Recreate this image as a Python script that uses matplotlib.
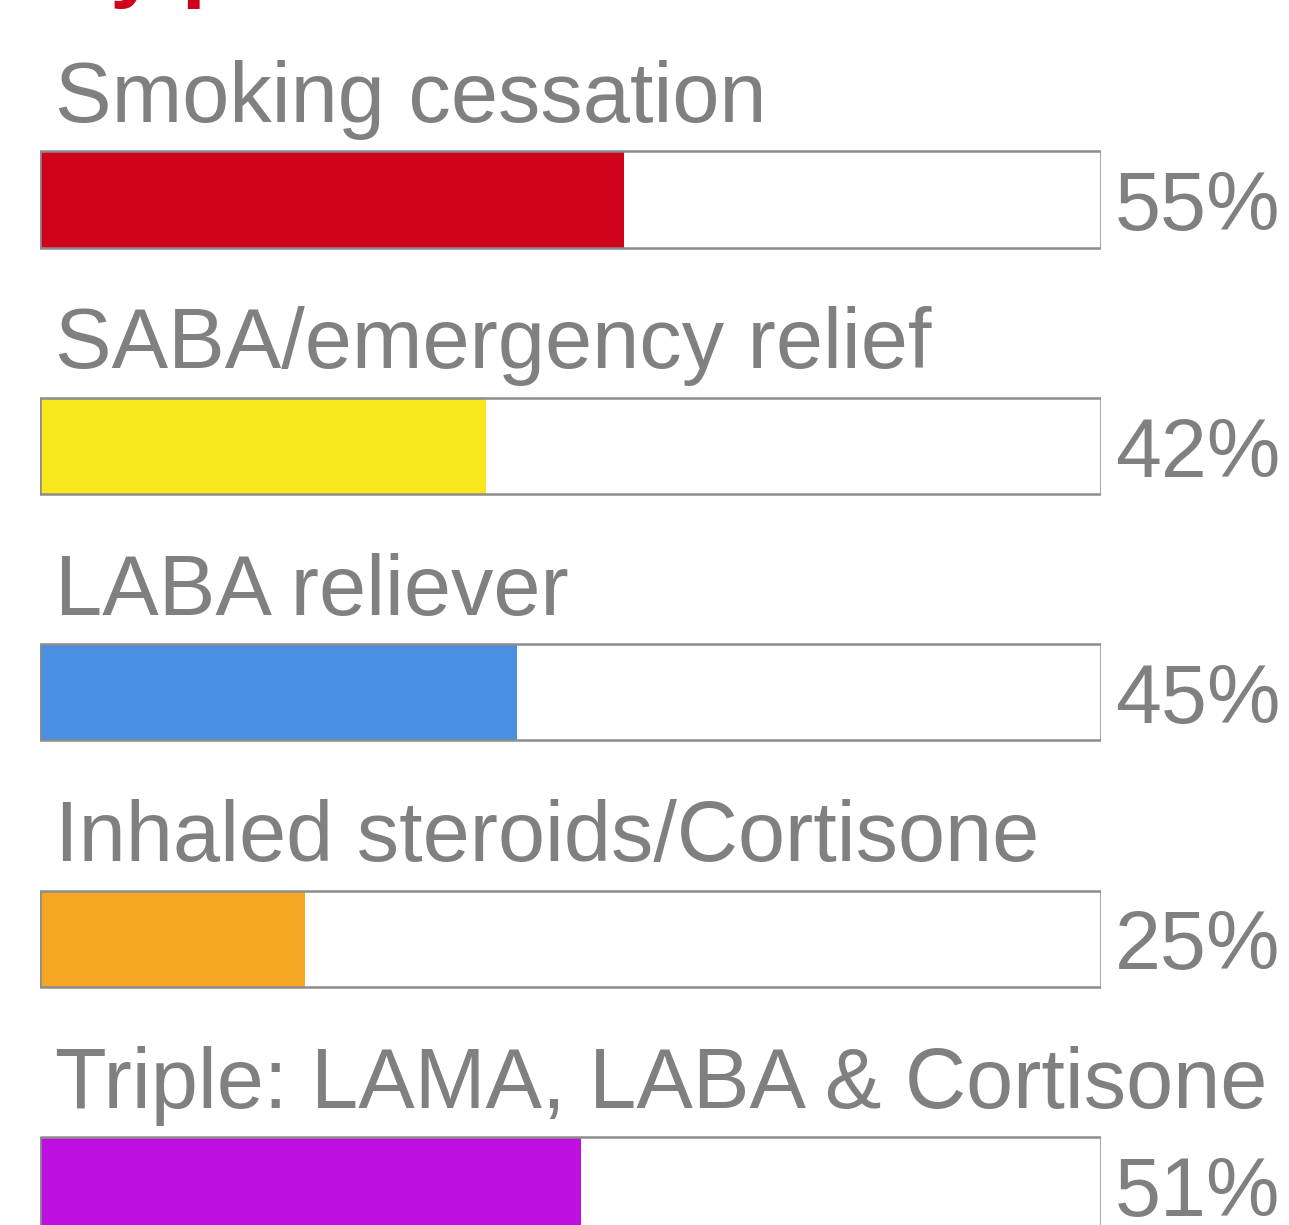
import matplotlib
matplotlib.use("Agg")
import matplotlib.pyplot as plt

# data
labels = ["Smoking cessation", "SABA/emergency relief", "LABA reliever",
          "Inhaled steroids/Cortisone", "Triple: LAMA, LABA & Cortisone"]
values = [55, 42, 45, 25, 51]
colors = ["#D0021B", "#F8E71C", "#4A90E2", "#F5A623", "#BD10E0"]
title = "By patient"

plt.rcParams['font.family'] = ['Liberation Sans', 'DejaVu Sans']

W, H = 1289, 1225
fig = plt.figure(figsize=(W / 100, H / 100), dpi=100)
ax = fig.add_axes([40 / W, 0, 1061 / W, 1])

gray = "#808080"
pos = list(range(len(values)))

# filled part, then the outline box on top
ax.barh(pos, values, height=0.39, color=colors, linewidth=0)
ax.barh(pos, [100] * len(values), height=0.39, facecolor="none",
        edgecolor="#8c8c8c", linewidth=1.8)

for i, (lab, v) in enumerate(zip(labels, values)):
    ax.text(1.4, i - 0.3145, lab, fontsize=61, color=gray, va="baseline", ha="left")
    ax.text(101.3, i + 0.125, f"{v}%", fontsize=59.5, color=gray, va="baseline", ha="left",
            clip_on=False)

# title, mostly cut off at the top edge
fig.text(48 / W, 1 + 9 / H, title, fontsize=62, fontweight="bold", color="#D0021B",
         va="baseline", ha="left")

ax.set_xlim(0, 100)
ax.set_ylim(4.162, -0.8097)
ax.axis("off")

fig.savefig("out.png", dpi=100)
